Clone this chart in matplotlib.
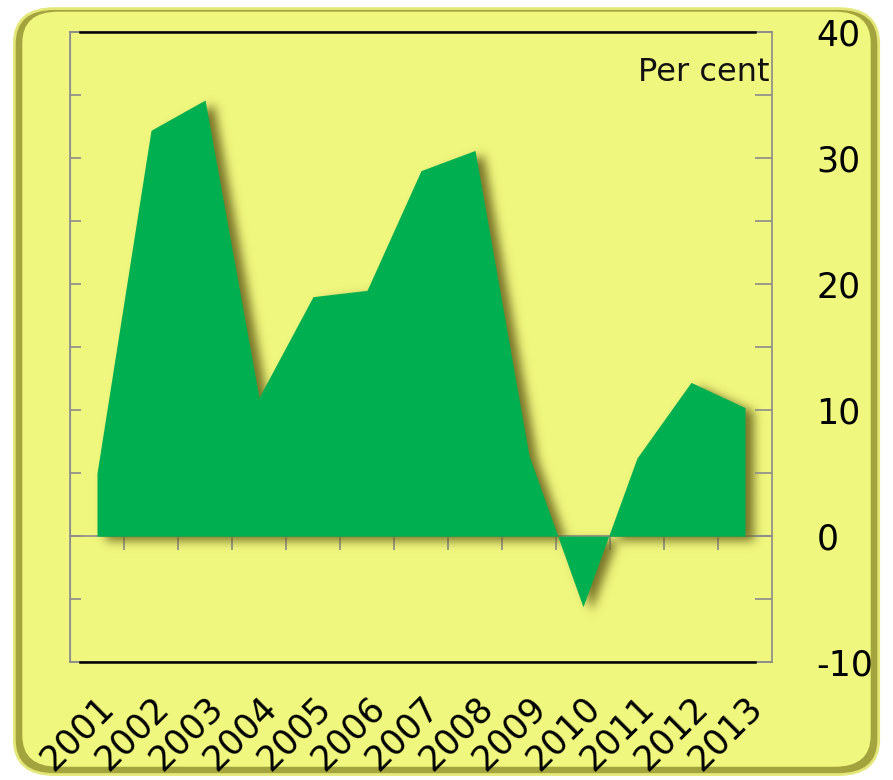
import matplotlib
matplotlib.use("Agg")
from matplotlib import pyplot as plt
from matplotlib.patches import FancyBboxPatch
import numpy as np

years = ["2001", "2002", "2003", "2004", "2005", "2006", "2007",
         "2008", "2009", "2010", "2011", "2012", "2013"]
growth = [5.0, 32.2, 34.6, 11.0, 19.0, 19.5, 29.0, 30.6, 6.4, -5.6, 6.2, 12.2, 10.2]
y_limits = (-10, 40)

GREEN = "#00b050"
YELLOW = "#f0f77e"
FRAME = "#8c8c8c"

plt.rcParams["font.family"] = ["DejaVu Sans"]
plt.rcParams["axes.unicode_minus"] = False

fig = plt.figure(figsize=(8.93, 7.80), dpi=100)
fig.patch.set_facecolor("white")

# rounded yellow panel with a darker bevel on the sides and bottom
outer = FancyBboxPatch((0.016, 0.007), 0.968, 0.982,
                       boxstyle="round,pad=0,rounding_size=0.045",
                       transform=fig.transFigure, facecolor="#a3a43e",
                       edgecolor="#e4e878", linewidth=2, zorder=-2)
inner = FancyBboxPatch((0.025, 0.017), 0.950, 0.968,
                       boxstyle="round,pad=0,rounding_size=0.04",
                       transform=fig.transFigure, facecolor=YELLOW,
                       edgecolor="none", zorder=-1)
fig.patches.extend([outer, inner])

ax = fig.add_axes([0.0784, 0.151, 0.7861, 0.808])
ax.set_zorder(1)
ax.set_facecolor(YELLOW)

x = np.arange(len(years))
xlim = (-0.5, len(years) - 0.5)

area = ax.fill_between(x, growth, 0, color=GREEN, linewidth=0, zorder=2)

# blurred drop shadow: rasterise the area outline, shift and blur it
W, H = 702, 630
gx = np.linspace(xlim[0], xlim[1], W)
gy = np.linspace(y_limits[0], y_limits[1], H)
XX, YY = np.meshgrid(gx, gy)
mask = area.get_paths()[0].contains_points(np.column_stack([XX.ravel(), YY.ravel()]))
mask = mask.reshape(H, W).astype(float)
shift_x, shift_y = 9, 5
shadow = np.zeros_like(mask)
shadow[:H - shift_y, shift_x:] = mask[shift_y:, :W - shift_x]
k = np.exp(-0.5 * (np.arange(-15, 16) / 5.0) ** 2)
k /= k.sum()
shadow = np.apply_along_axis(lambda r: np.convolve(r, k, mode="same"), 1, shadow)
shadow = np.apply_along_axis(lambda c: np.convolve(c, k, mode="same"), 0, shadow)
rgba = np.zeros((H, W, 4))
rgba[..., 0] = 0.42
rgba[..., 1] = 0.40
rgba[..., 2] = 0.12
rgba[..., 3] = 0.9 * shadow
ax.imshow(rgba, origin="lower", extent=(xlim[0], xlim[1], y_limits[0], y_limits[1]),
          aspect="auto", interpolation="bilinear", zorder=1)

ax.set_xlim(*xlim)
ax.set_ylim(*y_limits)

for side in ["left", "right", "top", "bottom"]:
    ax.spines[side].set_color(FRAME)
    ax.spines[side].set_linewidth(1.2)
for edge in y_limits:
    ax.axhline(edge, xmin=0.014, xmax=0.976, color="black", linewidth=1.8,
               zorder=5, clip_on=False)

# right-hand value axis
ax.yaxis.tick_right()
ax.set_yticks(np.arange(y_limits[0], y_limits[1] + 1, 10))
ax.set_yticks(np.arange(y_limits[0], y_limits[1] + 1, 5), minor=True)
ax.tick_params(axis="y", which="both", direction="in", length=12, width=1.2,
               color=FRAME, labelsize=25, pad=32)
for lab in ax.get_yticklabels():
    lab.set_horizontalalignment("left")

# short ticks on the left edge
left = ax.secondary_yaxis("left")
left.set_yticks(np.arange(y_limits[0], y_limits[1] + 1, 5))
left.tick_params(direction="in", length=8, width=1.2, color=FRAME, labelleft=False)
left.spines["left"].set_color(FRAME)

# category labels along the bottom
ax.set_xticks(x)
ax.set_xticklabels(years, rotation=45, ha="right", rotation_mode="anchor", fontsize=25)
ax.tick_params(axis="x", length=0, pad=20)

# zero line with ticks between categories
zero_pos = (0 - y_limits[0]) / (y_limits[1] - y_limits[0])
zero = ax.secondary_xaxis(zero_pos)
zero.set_xticks(x[:-1] + 0.5)
zero.tick_params(direction="out", length=10, width=1.2, color=FRAME, labelbottom=False)
zero.spines["bottom"].set_color(FRAME)
zero.spines["bottom"].set_linewidth(1.2)

ax.text(0.997, 0.935, "Per cent", transform=ax.transAxes, ha="right", va="center",
        fontsize=23, color="#111111")

plt.savefig("out.png", dpi=100, facecolor=fig.get_facecolor())
